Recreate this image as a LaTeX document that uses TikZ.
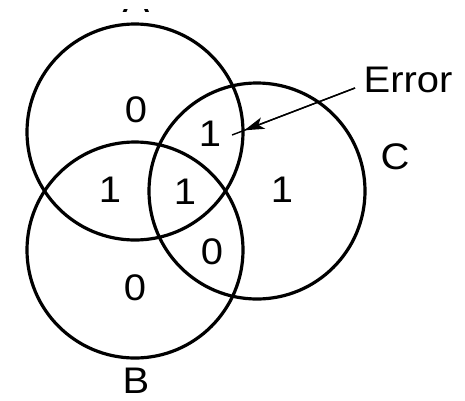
\documentclass[tikz,border=0pt]{standalone}
\usepackage{fontspec}
\setmainfont[FakeStretch=1.08]{Liberation Sans}
\usetikzlibrary{arrows.meta,calc}
\begin{document}
\begin{tikzpicture}[x=1pt,y=-1pt,
  ring/.style={draw=black,line width=3.2pt},
  lbl/.style={font=\fontsize{37}{37}\selectfont,inner sep=0pt,anchor=center}]
\useasboundingbox (0,0) rectangle (465,400);
\clip (0,9) rectangle (465,400);
\draw[ring] (135,132) circle[radius=108];
\draw[ring] (135,250) circle[radius=108];
\draw[ring] (257,191) circle[radius=108];
\node[lbl,anchor=base] (a) at (136,12.5) {A};
\node[lbl] (b) at (136,381) {B};
\node[lbl] (c) at (395,157) {C};
\node[lbl] (err) at (408,80) {Error};
\node[lbl] (n1) at (136,110) {0};
\node[lbl] (n2) at (210,134) {1};
\node[lbl] (n3) at (110,190) {1};
\node[lbl] (n4) at (185,192) {1};
\node[lbl] (n5) at (282,190) {1};
\node[lbl] (n6) at (212,252) {0};
\node[lbl] (n7) at (135,288) {0};
\coordinate (start) at (355,88);
\coordinate (tip) at (232,135);
\draw[line width=1.4pt] (start) -- (tip);
\draw[line width=1.4pt,-{Stealth[length=20pt,width=12pt,inset=5pt]}] (start) -- ($(start)!0.9!(tip)$);
\end{tikzpicture}
\end{document}
